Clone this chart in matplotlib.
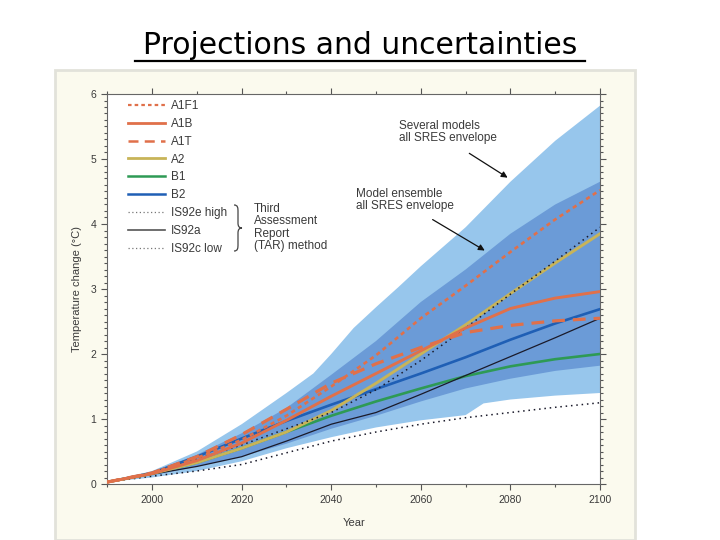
import numpy as np
import matplotlib
matplotlib.use("Agg")
from matplotlib import pyplot as plt
from matplotlib.lines import Line2D
from matplotlib.patches import Rectangle, PathPatch
from matplotlib.path import Path
from matplotlib.ticker import MultipleLocator

# scenario curves, temperature change (deg C)
years = [1990, 2000, 2010, 2020, 2030, 2040, 2050, 2060, 2070, 2080, 2090, 2100]
a1fi = [0.03, 0.17, 0.40, 0.68, 1.05, 1.50, 1.98, 2.55, 3.05, 3.57, 4.07, 4.52]
a1b = [0.03, 0.16, 0.36, 0.63, 0.98, 1.35, 1.70, 2.05, 2.40, 2.70, 2.86, 2.96]
a1t = [0.03, 0.17, 0.42, 0.76, 1.15, 1.55, 1.85, 2.10, 2.33, 2.44, 2.51, 2.55]
a2 = [0.03, 0.16, 0.33, 0.55, 0.80, 1.13, 1.55, 2.00, 2.45, 2.93, 3.40, 3.85]
b1 = [0.03, 0.16, 0.33, 0.55, 0.80, 1.05, 1.27, 1.47, 1.66, 1.81, 1.92, 2.00]
b2 = [0.03, 0.17, 0.42, 0.70, 0.97, 1.22, 1.46, 1.70, 1.95, 2.22, 2.47, 2.69]
is92e = [0.03, 0.17, 0.38, 0.60, 0.85, 1.10, 1.45, 1.90, 2.40, 2.92, 3.43, 3.95]
is92a = [0.03, 0.15, 0.27, 0.42, 0.66, 0.92, 1.10, 1.38, 1.67, 1.96, 2.25, 2.55]
is92c = [0.03, 0.12, 0.20, 0.30, 0.48, 0.66, 0.80, 0.92, 1.02, 1.10, 1.18, 1.25]

# envelopes
outer_hi_years = [1990, 2000, 2010, 2020, 2030, 2036, 2040, 2045, 2050, 2055, 2060, 2070, 2080, 2090, 2100]
outer_hi = [0.03, 0.20, 0.50, 0.92, 1.40, 1.70, 2.00, 2.40, 2.72, 3.03, 3.35, 3.95, 4.65, 5.28, 5.82]
outer_lo_years = [1990, 2000, 2010, 2020, 2030, 2040, 2050, 2060, 2070, 2074, 2080, 2090, 2100]
outer_lo = [0.03, 0.10, 0.20, 0.35, 0.55, 0.72, 0.87, 0.98, 1.06, 1.24, 1.30, 1.36, 1.40]
inner_hi = [0.03, 0.18, 0.45, 0.78, 1.17, 1.68, 2.20, 2.80, 3.30, 3.85, 4.30, 4.65]
inner_lo = [0.03, 0.13, 0.27, 0.42, 0.62, 0.85, 1.05, 1.27, 1.47, 1.62, 1.74, 1.82]

red = "#e0704a"
txt = "#3a3a3a"

fig = plt.figure(figsize=(7.2, 5.4), dpi=100)
fig.patch.set_facecolor("white")

# scanned-figure background
fig.patches.append(Rectangle((55 / 720, 0), 580 / 720, 470 / 540, transform=fig.transFigure,
                             facecolor="#fbfaee", edgecolor="#e2e2da", lw=2, zorder=-10))

fig.text(0.5, 486 / 540, "Projections and uncertainties", ha="center", va="baseline",
         fontsize=21.5, color="black", family="DejaVu Sans")
fig.add_artist(Line2D([135 / 720, 585 / 720], [479 / 540, 479 / 540], color="black", lw=1.6,
                      transform=fig.transFigure))

ax = fig.add_axes([107.3 / 720, 56 / 540, 492.7 / 720, 390 / 540])
ax.set_facecolor("white")

# envelopes
ax.fill(outer_hi_years + outer_lo_years[::-1], outer_hi + outer_lo[::-1],
        color="#97c6ec", lw=0, zorder=1)
ax.fill(years + years[::-1], inner_hi + inner_lo[::-1], color="#6b9bd7", lw=0, zorder=2)

# scenario lines
ax.plot(years, is92c, color="#1a1a2a", lw=1.1, ls=(0, (1, 2.5)), zorder=3)
ax.plot(years, b1, color="#2e9a55", lw=1.9, zorder=4)
ax.plot(years, is92a, color="#1a1a2a", lw=0.9, zorder=4)
ax.plot(years, b2, color="#1f5fb5", lw=1.9, zorder=4)
ax.plot(years, a2, color="#c8b458", lw=2.1, zorder=4)
ax.plot(years, is92e, color="#1a1a2a", lw=1.1, ls=(0, (1, 2.5)), zorder=5)
ax.plot(years, a1b, color=red, lw=2.1, zorder=5)
ax.plot(years, a1t, color=red, lw=2.3, ls=(0, (4, 2.5)), zorder=5)
ax.plot(years, a1fi, color=red, lw=1.9, ls=(0, (1.6, 1.4)), zorder=5)

# legend
handles = [
    Line2D([], [], color=red, lw=1.6, ls=(0, (1.6, 1.4))),
    Line2D([], [], color=red, lw=2.0),
    Line2D([], [], color=red, lw=1.8, ls=(0, (4, 2.5))),
    Line2D([], [], color="#c8b458", lw=2.0),
    Line2D([], [], color="#2e9a55", lw=1.8),
    Line2D([], [], color="#1f5fb5", lw=1.8),
    Line2D([], [], color="#777777", lw=0.9, ls=(0, (1, 2))),
    Line2D([], [], color="#555555", lw=1.2),
    Line2D([], [], color="#777777", lw=0.9, ls=(0, (1, 2))),
]
labels = ["A1F1", "A1B", "A1T", "A2", "B1", "B2", "IS92e high", "IS92a", "IS92c low"]
leg = ax.legend(handles, labels, loc="upper left", bbox_to_anchor=(0.042, 0.985), frameon=False,
                fontsize=8.5, handlelength=3.1, handletextpad=0.55, labelspacing=0.5,
                borderpad=0, borderaxespad=0)
for t in leg.get_texts():
    t.set_color(txt)
    t.set_family("Liberation Sans")

# brace for the TAR entries
def fp(px, py):
    return (px / 720, (540 - py) / 540)

verts = [fp(234, 205), fp(238, 205), fp(238, 208), fp(238, 212),
         fp(238, 223), fp(238, 226), fp(239, 228), fp(242, 228),
         fp(239, 228), fp(238, 230), fp(238, 233),
         fp(238, 244), fp(238, 248), fp(238, 251), fp(234, 251)]
codes = [Path.MOVETO, Path.CURVE4, Path.CURVE4, Path.CURVE4,
         Path.LINETO, Path.CURVE4, Path.CURVE4, Path.CURVE4,
         Path.CURVE4, Path.CURVE4, Path.CURVE4,
         Path.LINETO, Path.CURVE4, Path.CURVE4, Path.CURVE4]
fig.add_artist(PathPatch(Path(verts, codes), facecolor="none", edgecolor="#444444", lw=0.9,
                         transform=fig.transFigure))
fig.text(254 / 720, (540 - 203) / 540, "Third\nAssessment\nReport\n(TAR) method", ha="left",
         va="top", fontsize=8.5, color=txt, family="Liberation Sans", linespacing=1.05)

# envelope notes
ax.text(2055.1, 5.6, "Several models\nall SRES envelope", ha="left", va="top", fontsize=8.5,
        color=txt, family="Liberation Sans", linespacing=1.05, zorder=6)
ax.annotate("", xy=(2079.9, 4.69), xytext=(2070.3, 5.11),
            arrowprops=dict(arrowstyle="-|>", color="#111111", lw=0.9, mutation_scale=9), zorder=6)
ax.text(2045.5, 4.56, "Model ensemble\nall SRES envelope", ha="left", va="top", fontsize=8.5,
        color=txt, family="Liberation Sans", linespacing=1.05, zorder=6)
ax.annotate("", xy=(2074.8, 3.57), xytext=(2062.1, 4.09),
            arrowprops=dict(arrowstyle="-|>", color="#111111", lw=0.9, mutation_scale=9), zorder=6)

# axes
ax.set_xlim(1990, 2100)
ax.set_ylim(0, 6)
ax.set_xticks([2000, 2020, 2040, 2060, 2080, 2100])
ax.xaxis.set_minor_locator(MultipleLocator(10))
ax.yaxis.set_major_locator(MultipleLocator(1))
ax.yaxis.set_minor_locator(MultipleLocator(0.1))
ax.tick_params(which="both", direction="out", top=True, right=True, colors="#555555",
               labelcolor=txt, labelsize=7.5, width=0.8)
ax.tick_params(which="major", length=4.5)
ax.tick_params(which="minor", length=2.5)
for lab in ax.get_xticklabels() + ax.get_yticklabels():
    lab.set_family("Liberation Sans")
for s in ax.spines.values():
    s.set_color("#666666")
    s.set_linewidth(0.8)

ax.set_xlabel("Year", fontsize=8, color=txt, family="Liberation Sans", labelpad=9)
ax.set_ylabel("Temperature change (°C)", fontsize=8, color=txt, family="Liberation Sans",
              labelpad=6)

plt.savefig("out.png", dpi=100)
